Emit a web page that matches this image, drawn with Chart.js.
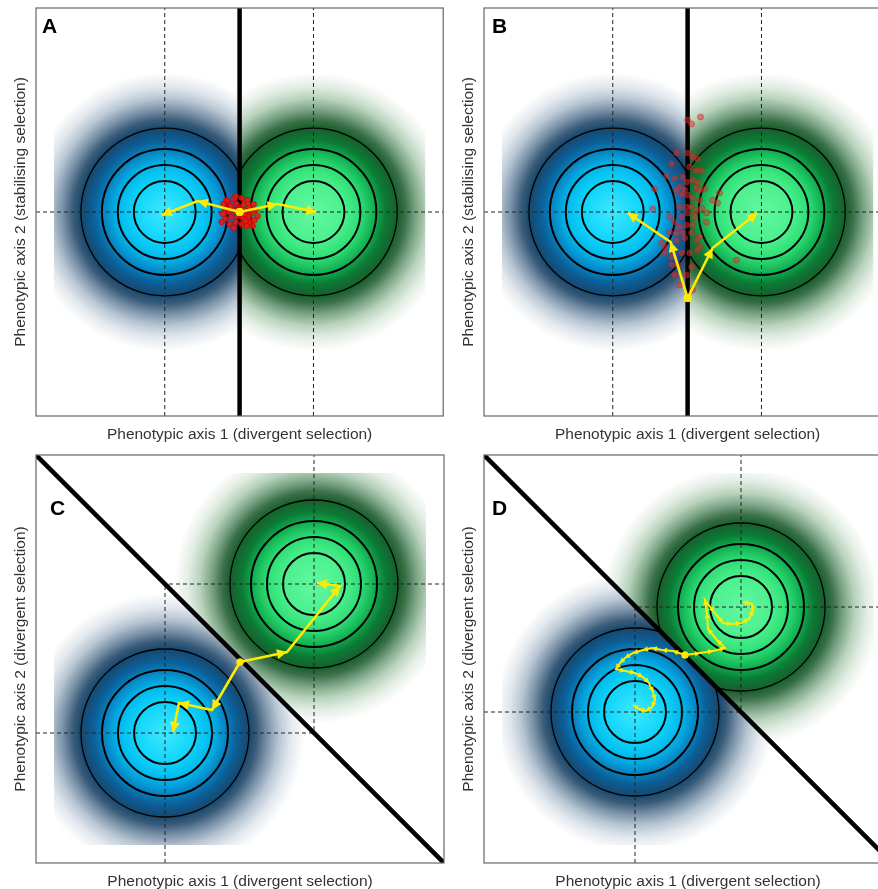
<!DOCTYPE html>
<html><head><meta charset="utf-8">
<script src="https://cdn.jsdelivr.net/npm/chart.js@4.4.1/dist/chart.umd.min.js"></script>
<style>
html,body{margin:0;padding:0;background:#fff;overflow:hidden;width:878px;height:889px;position:relative;}
.p{position:absolute;width:448px;height:447px;}
</style></head><body>
<div class="p" style="left:0;top:0"><canvas id="cA" width="448" height="447"></canvas></div>
<div class="p" style="left:448px;top:0"><canvas id="cB" width="448" height="447"></canvas></div>
<div class="p" style="left:0;top:447px"><canvas id="cC" width="448" height="447"></canvas></div>
<div class="p" style="left:448px;top:447px"><canvas id="cD" width="448" height="447"></canvas></div>
<script>
// ---------- shared values ----------
const axisMin = -204, axisMax = 204;
const surfaceExtent = 186;
const contourRadii = [31, 47, 63, 84];
const contourWidths = [2, 2, 2, 1.3];

const xTitle = "Phenotypic axis 1 (divergent selection)";
const yTitleStab = "Phenotypic axis 2 (stabilising selection)";
const yTitleDiv = "Phenotypic axis 2 (divergent selection)";
const panelLabels = ["A", "B", "C", "D"];

// colour ramps: [radius in axis units, colour]
const blueRamp = [[0,'#3ee8ff'],[30,'#10d4fa'],[47,'#00b8ec'],[60,'#0888c6'],[72,'#0b5f98'],[84,'#17486e'],[92,'#3a5c7a'],[102,'#7890a6'],[114,'#b8c6d3'],[126,'#e2e8ee'],[140,'#ffffff']];
const greenRamp = [[0,'#62f7a0'],[30,'#4cf08e'],[47,'#2ede74'],[60,'#14b454'],[72,'#0b7c36'],[84,'#175f2c'],[92,'#3a7048'],[102,'#78a282'],[114,'#b8d2bc'],[126,'#e2ede3'],[140,'#ffffff']];

// ---------- panel A ----------
const blueCentreA = [-75, 0];
const greenCentreA = [74, 0];
const boundaryA = [[0, axisMin], [0, axisMax]];
const pathBlueA = [[0,0],[-42,11],[-78,-3]];
const pathGreenA = [[0,0],[38,8],[77,0]];
const dotsA = [[-12,10],[-6,13],[2,14],[8,12],[-15,4],[-9,6],[-3,8],[4,7],[10,5],[14,8],[-17,-2],[-11,0],[-5,2],[6,1],[12,-1],[16,2],[-14,-7],[-8,-5],[-2,-4],[3,-6],[9,-5],[15,-8],[-10,-12],[-4,-10],[2,-12],[7,-14],[11,-10],[-18,-10],[-6,-16],[13,-14],[0,4],[-1,-1],[5,-2],[-13,12],[18,-4],[-4,16],[6,-9],[-16,8]];

// ---------- panel B ----------
const blueCentreB = [-75, 0];
const greenCentreB = [74, 0];
const boundaryB = [[0, axisMin], [0, axisMax]];
const pathBlueB = [[0,-86],[-17,-30],[-60,-1]];
const pathGreenB = [[0,-86],[25,-36],[70,-1]];
const dotsB = [[13,95],[0,92],[4,88],[-11,59],[-16,48],[0,59],[5,55],[10,53],[2,45],[9,41],[14,41],[-21,36],[-13,34],[-5,35],[-1,30],[5,32],[10,30],[-8,25],[-11,22],[-3,22],[9,24],[12,22],[17,23],[-33,23],[-6,17],[0,17],[5,14],[12,12],[25,12],[30,9],[32,19],[-35,3],[-8,5],[-1,5],[4,5],[9,2],[14,4],[-18,-5],[-6,-5],[0,-1],[7,-5],[19,-1],[-13,-10],[-8,-15],[-1,-13],[5,-13],[19,-10],[-18,-20],[-11,-21],[-5,-21],[4,-21],[12,-25],[-26,-31],[-23,-35],[-11,-28],[-3,-26],[9,-28],[12,-35],[-23,-41],[-16,-45],[-6,-41],[2,-41],[10,-38],[-16,-53],[-10,-53],[4,-55],[49,-48],[-13,-63],[-1,-63],[-8,-73],[5,-78]];

// ---------- panel C ----------
const blueCentreC = [-75, -74];
const greenCentreC = [74, 75];
const boundaryC = [[axisMin, axisMax], [axisMax, axisMin]];
const pathGreenC = [[0,-3],[47,7],[100,73],[77,76]];
const pathBlueC = [[0,-3],[-28,-51],[-61,-44],[-67,-73]];

// ---------- panel D ----------
const blueCentreD = [-53, -53];
const greenCentreD = [53, 52];
const boundaryD = [[axisMin, axisMax], [axisMax, axisMin]];
const pathGreenD = [[-3,4],[12,6],[25,8],[37,11],[29,19],[20,30],[19,46],[17,59],[26,47],[35,36],[44,35],[53,36],[61,40],[65,49],[64,55],[55,57]];
const pathBlueD = [[-3,4],[-15,8],[-26,9],[-36,11],[-45,9],[-55,6],[-63,1],[-68,-4],[-72,-10],[-63,-12],[-53,-14],[-45,-18],[-39,-24],[-35,-33],[-33,-41],[-36,-48],[-42,-52],[-49,-50],[-55,-46]];

// ---------- rendering ----------
const FONT = '"Liberation Sans", Arial, Helvetica, sans-serif';
const YELLOW = '#ffea00';
const toPts = arr => arr.map(p => ({x: p[0], y: p[1]}));

function halfPlaneClip(chart, cfg, side) {
  const ctx = chart.ctx, xs = chart.scales.x, ys = chart.scales.y;
  const P = cfg.boundary.map(p => [xs.getPixelForValue(p[0]), ys.getPixelForValue(p[1])]);
  const c = cfg.centres[side];
  const C = [xs.getPixelForValue(c[0]), ys.getPixelForValue(c[1])];
  let dx = P[1][0] - P[0][0], dy = P[1][1] - P[0][1];
  const L = Math.hypot(dx, dy); dx /= L; dy /= L;
  let nx = -dy, ny = dx;
  if ((C[0] - P[0][0]) * nx + (C[1] - P[0][1]) * ny < 0) { nx = -nx; ny = -ny; }
  const B = 3000;
  const a = [P[0][0] - dx * B, P[0][1] - dy * B], b = [P[1][0] + dx * B, P[1][1] + dy * B];
  ctx.beginPath();
  ctx.moveTo(a[0], a[1]); ctx.lineTo(b[0], b[1]);
  ctx.lineTo(b[0] + nx * B, b[1] + ny * B); ctx.lineTo(a[0] + nx * B, a[1] + ny * B);
  ctx.closePath(); ctx.clip();
}

const panelPlugin = {
  id: 'panelPlugin',
  beforeDatasetsDraw(chart) {
    const cfg = chart.options.plugins.panelPlugin.cfg;
    const ctx = chart.ctx, xs = chart.scales.x, ys = chart.scales.y, ca = chart.chartArea;
    for (const side of ['blue', 'green']) {
      const c = cfg.centres[side];
      const cx = xs.getPixelForValue(c[0]), cy = ys.getPixelForValue(c[1]);
      const unit = xs.getPixelForValue(1) - xs.getPixelForValue(0);
      const ramp = side === 'blue' ? blueRamp : greenRamp;
      const rMax = ramp[ramp.length - 1][0];
      ctx.save();
      ctx.beginPath(); ctx.rect(ca.left, ca.top, ca.right - ca.left, ca.bottom - ca.top); ctx.clip();
      halfPlaneClip(chart, cfg, side);
      // fitness surface
      ctx.save();
      const sx0 = xs.getPixelForValue(-surfaceExtent), sx1 = xs.getPixelForValue(surfaceExtent);
      const sy0 = ys.getPixelForValue(surfaceExtent), sy1 = ys.getPixelForValue(-surfaceExtent);
      const g = ctx.createRadialGradient(cx, cy, 0, cx, cy, rMax * unit);
      for (const [r, col] of ramp) g.addColorStop(r / rMax, col);
      ctx.fillStyle = g;
      ctx.fillRect(sx0, sy0, sx1 - sx0, sy1 - sy0);
      ctx.restore();
      // contours
      ctx.strokeStyle = '#000';
      contourRadii.forEach((r, i) => {
        ctx.lineWidth = contourWidths[i];
        ctx.beginPath(); ctx.arc(cx, cy, r * unit, 0, Math.PI * 2); ctx.stroke();
      });
      ctx.restore();
    }
  },
  beforeDatasetDraw(chart, args) {
    const ds = chart.data.datasets[args.index];
    if (ds.clipSide) {
      chart.ctx.save();
      halfPlaneClip(chart, chart.options.plugins.panelPlugin.cfg, ds.clipSide);
    }
  },
  afterDatasetDraw(chart, args) {
    const ds = chart.data.datasets[args.index];
    if (ds.clipSide) chart.ctx.restore();
  },
  afterDatasetsDraw(chart) {
    const ctx = chart.ctx;
    chart.data.datasets.forEach((ds, i) => {
      if (!ds.arrow) return;
      const pts = chart.getDatasetMeta(i).data;
      ctx.save();
      ctx.fillStyle = YELLOW;
      for (let k = 1; k < pts.length; k++) {
        const p = pts[k], q = pts[k - 1];
        let ux = p.x - q.x, uy = p.y - q.y;
        const l = Math.hypot(ux, uy); if (!l) continue;
        ux /= l; uy /= l;
        const L = ds.arrow[0], W = ds.arrow[1];
        const bx = p.x - ux * L, by = p.y - uy * L;
        ctx.beginPath();
        ctx.moveTo(p.x, p.y);
        ctx.lineTo(bx - uy * W, by + ux * W);
        ctx.lineTo(bx + uy * W, by - ux * W);
        ctx.closePath(); ctx.fill();
      }
      ctx.restore();
    });
  },
  afterDraw(chart) {
    const cfg = chart.options.plugins.panelPlugin.cfg;
    const ctx = chart.ctx, ca = chart.chartArea;
    ctx.save();
    ctx.strokeStyle = '#666'; ctx.lineWidth = 1.2;
    ctx.strokeRect(ca.left, ca.top, ca.right - ca.left, ca.bottom - ca.top);
    ctx.fillStyle = '#000';
    ctx.font = 'bold 21px ' + FONT;
    ctx.textBaseline = 'alphabetic';
    ctx.fillText(cfg.label, ca.left + cfg.labelPos[0], ca.top + cfg.labelPos[1]);
    ctx.restore();
  }
};

function makePanel(id, cfg) {
  const datasets = [];
  const dash = {showLine: true, borderColor: '#222', borderWidth: 1, borderDash: [4, 3], pointRadius: 0, order: 6, tension: 0};
  for (const side of ['blue', 'green']) {
    const c = cfg.centres[side];
    datasets.push(Object.assign({data: toPts([[axisMin, c[1]], [axisMax, c[1]]]), clipSide: side}, dash));
    datasets.push(Object.assign({data: toPts([[c[0], axisMin], [c[0], axisMax]]), clipSide: side}, dash));
  }
  datasets.push({data: toPts(cfg.boundary), showLine: true, borderColor: '#000', borderWidth: 4.5, pointRadius: 0, order: 5, borderCapStyle: 'butt'});
  if (cfg.dots) {
    datasets.push({data: toPts(cfg.dots), showLine: false, pointRadius: cfg.dotStyle.r,
      backgroundColor: cfg.dotStyle.fill, borderColor: cfg.dotStyle.stroke, borderWidth: 0.8, order: 4});
  }
  for (const path of cfg.paths) {
    datasets.push({data: toPts(path), showLine: true, borderColor: YELLOW, borderWidth: cfg.pathWidth, tension: 0,
      pointRadius: c => c.dataIndex === 0 ? cfg.startRadius : 0, pointBackgroundColor: YELLOW, pointBorderWidth: 0,
      arrow: cfg.arrow, order: 1});
  }
  new Chart(document.getElementById(id), {
    type: 'scatter',
    data: {datasets},
    plugins: [panelPlugin],
    options: {
      responsive: false, animation: false, events: [],
      layout: {padding: {top: 8, right: 4, bottom: 0, left: 0}},
      plugins: {legend: {display: false}, tooltip: {enabled: false}, panelPlugin: {cfg}},
      scales: {
        x: {type: 'linear', min: axisMin, max: axisMax, grid: {display: false}, border: {display: false},
            ticks: {display: false},
            title: {display: true, text: xTitle, color: '#333', font: {family: FONT, size: 15.5, lineHeight: 1}, padding: {top: 0, bottom: 5}},
            afterFit: s => { s.height = 31; }},
        y: {type: 'linear', min: axisMin, max: axisMax, grid: {display: false}, border: {display: false},
            ticks: {display: false},
            title: {display: true, text: cfg.yTitle, color: '#333', font: {family: FONT, size: 15.5, lineHeight: 1}, padding: {top: 13, bottom: 0}},
            afterFit: s => { s.width = 36; }}
      }
    }
  });
}

makePanel('cA', {label: panelLabels[0], labelPos: [6, 25], yTitle: yTitleStab,
  centres: {blue: blueCentreA, green: greenCentreA}, boundary: boundaryA,
  paths: [pathBlueA, pathGreenA], pathWidth: 2.6, arrow: [10, 5], startRadius: 4,
  dots: dotsA, dotStyle: {r: 2.8, fill: 'rgba(240,20,20,0.85)', stroke: 'rgba(210,0,0,0.9)'}});
makePanel('cB', {label: panelLabels[1], labelPos: [8, 25], yTitle: yTitleStab,
  centres: {blue: blueCentreB, green: greenCentreB}, boundary: boundaryB,
  paths: [pathBlueB, pathGreenB], pathWidth: 2.6, arrow: [10, 5], startRadius: 4,
  dots: dotsB, dotStyle: {r: 3, fill: 'rgba(225,45,45,0.5)', stroke: 'rgba(200,30,30,0.55)'}});
makePanel('cC', {label: panelLabels[2], labelPos: [14, 60], yTitle: yTitleDiv,
  centres: {blue: blueCentreC, green: greenCentreC}, boundary: boundaryC,
  paths: [pathGreenC, pathBlueC], pathWidth: 2.6, arrow: [10, 5], startRadius: 3.5});
makePanel('cD', {label: panelLabels[3], labelPos: [8, 60], yTitle: yTitleDiv,
  centres: {blue: blueCentreD, green: greenCentreD}, boundary: boundaryD,
  paths: [pathGreenD, pathBlueD], pathWidth: 2, arrow: [5, 2.8], startRadius: 3.5});
</script>
</body></html>
